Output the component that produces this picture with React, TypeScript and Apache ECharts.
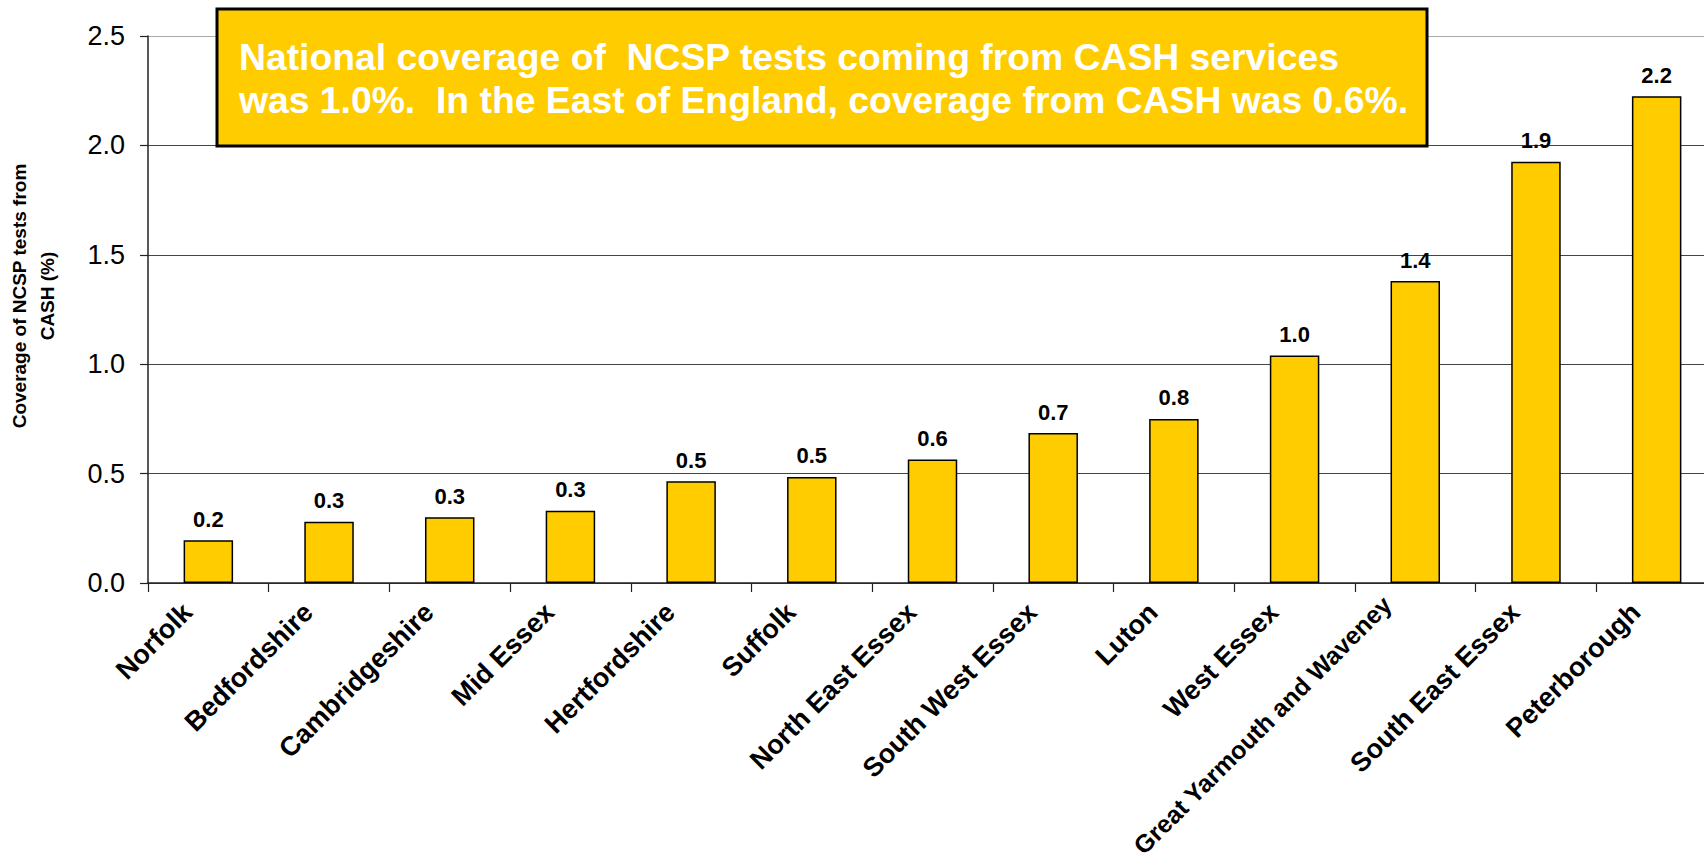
import React, { useEffect, useRef } from "react";
import * as echarts from "echarts";

const categories = [
  "Norfolk",
  "Bedfordshire",
  "Cambridgeshire",
  "Mid Essex",
  "Hertfordshire",
  "Suffolk",
  "North East Essex",
  "South West Essex",
  "Luton",
  "West Essex",
  "Great Yarmouth and Waveney",
  "South East Essex",
  "Peterborough",
];
const coverage = [0.195, 0.28, 0.3, 0.33, 0.465, 0.485, 0.565, 0.685, 0.75, 1.04, 1.38, 1.925, 2.225];
const valueLabels = ["0.2", "0.3", "0.3", "0.3", "0.5", "0.5", "0.6", "0.7", "0.8", "1.0", "1.4", "1.9", "2.2"];
const yTicks = [0, 0.5, 1.0, 1.5, 2.0, 2.5];
const yTitleLines = ["Coverage of NCSP tests from", "CASH (%)"];
const noteLines = [
  "National coverage of  NCSP tests coming from CASH services",
  "was 1.0%.  In the East of England, coverage from CASH was 0.6%.",
];
const longLabel = "Great Yarmouth and Waveney";

const FONT = "'Liberation Sans', Arial, sans-serif";

export default function App() {
  const ref = useRef<HTMLDivElement>(null);
  useEffect(() => {
    document.body.style.margin = "0";
    document.body.style.overflow = "hidden";
    if (!ref.current) return;
    const chart = echarts.init(ref.current, null, { renderer: "svg" });
    const xData = categories.map((c) =>
      c === longLabel
        ? {
            value: c,
            textStyle: {
              fontSize: 25,
              lineHeight: 48,
              align: "right",
              verticalAlign: "bottom",
              padding: [0, 16, 0, 0],
              fontWeight: "bold",
              fontFamily: FONT,
              color: "#000",
            },
          }
        : c
    );
    chart.setOption({
      animation: false,
      backgroundColor: "#ffffff",
      grid: {
        left: 148,
        top: 36,
        right: -13,
        bottom: 282,
        containLabel: false,
        outerBoundsMode: "none",
      },
      xAxis: {
        type: "category",
        data: xData,
        axisLine: { lineStyle: { color: "#222", width: 1.5 } },
        axisTick: { show: true, length: 9, alignWithLabel: false, lineStyle: { color: "#222", width: 1.2 } },
        axisLabel: {
          rotate: 45,
          interval: 0,
          margin: 23,
          padding: [0, 16, 0, 0],
          align: "right",
          verticalAlign: "bottom",
          color: "#000",
          fontFamily: FONT,
          fontWeight: "bold",
          fontSize: 27,
        },
      },
      yAxis: {
        type: "value",
        min: yTicks[0],
        max: yTicks[yTicks.length - 1],
        interval: 0.5,
        axisLine: { show: true, lineStyle: { color: "#222", width: 1.5 } },
        axisTick: { show: true, length: 8, lineStyle: { color: "#222", width: 1.2 } },
        axisLabel: {
          margin: 23,
          color: "#000",
          fontFamily: FONT,
          fontSize: 27,
          formatter: (v: number) => v.toFixed(1),
        },
        splitLine: {
          show: true,
          lineStyle: { color: ["#444", "#444", "#444", "#444", "#444", "#aaa"], width: 1.2 },
        },
      },
      series: [
        {
          type: "bar",
          data: coverage,
          barWidth: "41%",
          itemStyle: { color: "#FFCC00", borderColor: "#000", borderWidth: 1.5 },
          label: {
            show: true,
            position: "top",
            distance: 10,
            color: "#000",
            fontFamily: FONT,
            fontWeight: "bold",
            fontSize: 22,
            formatter: (p: any) => valueLabels[p.dataIndex],
          },
        },
      ],
      graphic: [
        {
          type: "text",
          x: 33,
          y: 296,
          rotation: Math.PI / 2,
          style: {
            text: yTitleLines.join("\n"),
            fill: "#000",
            font: `bold 19px ${FONT}`,
            lineHeight: 28,
            textAlign: "center",
            textVerticalAlign: "middle",
          },
        },
        {
          type: "rect",
          shape: { x: 217, y: 9, width: 1210, height: 137 },
          style: { fill: "#FFCC00", stroke: "#000", lineWidth: 3 },
          z: 10,
        },
        ...noteLines.map((line, i) => ({
          type: "text",
          x: 239,
          y: 57 + i * 43,
          z: 11,
          style: {
            text: line,
            fill: "#ffffff",
            font: `bold 37.3px ${FONT}`,
            textAlign: "left",
            textVerticalAlign: "middle",
          },
        })),
      ],
    });
    return () => chart.dispose();
  }, []);
  return <div ref={ref} style={{ width: 1704, height: 865 }} />;
}
